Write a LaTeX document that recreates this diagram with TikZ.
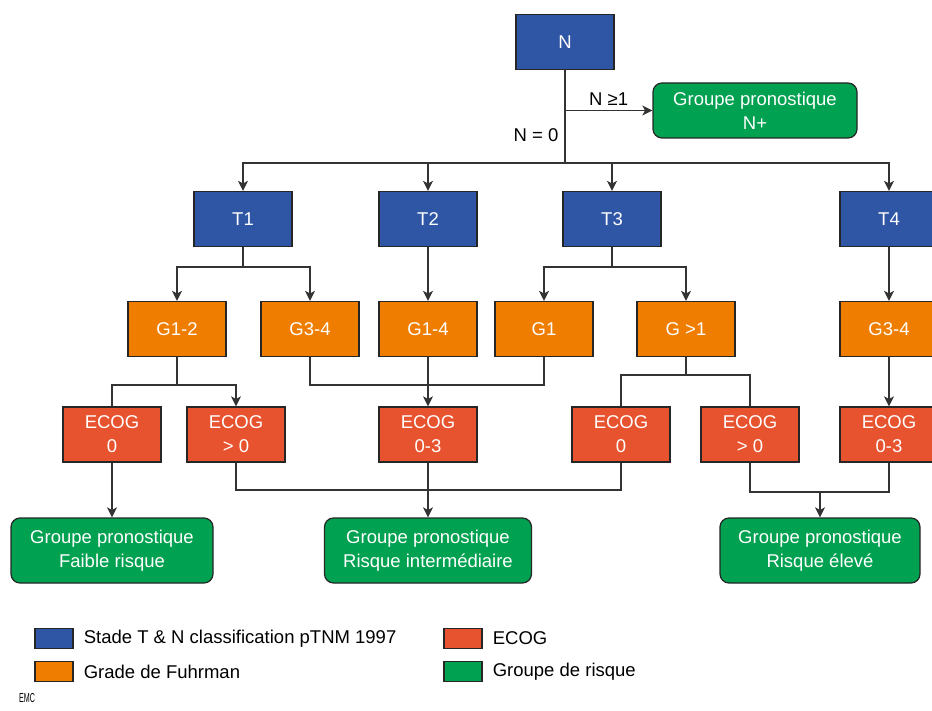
\documentclass[tikz,border=0pt]{standalone}
\usepackage{fontspec}
\setmainfont{Liberation Sans}
\usetikzlibrary{positioning, arrows.meta}
\definecolor{tblue}{HTML}{2F55A5}
\definecolor{gorange}{HTML}{EE7D00}
\definecolor{ered}{HTML}{E8532F}
\definecolor{rgreen}{HTML}{00A150}
\definecolor{wire}{HTML}{333333}
\tikzset{
box/.style={draw=black!85, line width=1.2pt, minimum width=98pt, minimum height=55pt, inner sep=2pt,
  text=white, align=center, font=\fontsize{18.5}{24}\selectfont}, % common look of all boxes
stade/.style={box, fill=tblue}, % T and N stage
grade/.style={box, fill=gorange}, % Fuhrman grade
ecog/.style={box, fill=ered}, % ECOG score
risque/.style={box, fill=rgreen, rounded corners=9pt, minimum width=202pt, minimum height=65pt}, % risk group
link/.style={draw=wire, line width=1.2pt}, % plain connector
arr/.style={link, -{Stealth[length=10pt, width=10pt, inset=2.5pt]}}, % connector with arrow
lbl/.style={text=black, font=\fontsize{18.5}{22}\selectfont, inner sep=1pt}, % edge labels
leg/.style={draw=black!85, line width=1.2pt, minimum width=38pt, minimum height=20pt, inner sep=0pt}, % legend square
legtxt/.style={inner sep=0pt, font=\fontsize{18.5}{22}\selectfont}, % legend text
}

\begin{document}
\begin{tikzpicture}[x=1pt, y=-1pt]
    \useasboundingbox (0,0) rectangle (932,711);
    \clip (0,0) rectangle (932,711);

    % stage
    \node[stade] (N) at (565,42) {N};
    \node[risque, minimum width=204pt, minimum height=55pt] (Npos) at (755,110.5) {Groupe pronostique\\N+};
    \node[lbl] (n0) at (536,135) {N = 0};

    \node[stade] (T1) at (243,219) {T1};
    \node[stade] (T2) at (428,219) {T2};
    \node[stade] (T3) at (612,219) {T3};
    \node[stade] (T4) at (889,219) {T4};

    % grade
    \node[grade] (G12) at (177,329) {G1-2};
    \node[grade] (G34) at (310,329) {G3-4};
    \node[grade] (G14) at (428,329) {G1-4};
    \node[grade] (G1) at (544,329) {G1};
    \node[grade] (Gsup) at (686,329) {G >1};
    \node[grade] (G34b) at (889,329) {G3-4};

    % ECOG
    \node[ecog] (E0a) at (112,434.5) {ECOG\\0};
    \node[ecog] (Esupa) at (236,434.5) {ECOG\\> 0};
    \node[ecog] (E03a) at (428,434.5) {ECOG\\0-3};
    \node[ecog] (E0b) at (621,434.5) {ECOG\\0};
    \node[ecog] (Esupb) at (750,434.5) {ECOG\\> 0};
    \node[ecog] (E03b) at (889,434.5) {ECOG\\0-3};

    % risk groups
    \node[risque] (Rfaible) at (112,550.5) {Groupe pronostique\\Faible risque};
    \node[risque, minimum width=207pt] (Rinter) at (428,550.5) {Groupe pronostique\\Risque intermédiaire};
    \node[risque, minimum width=200pt] (Releve) at (820,550.5) {Groupe pronostique\\Risque élevé};

    % bus points
    \coordinate (busN) at (565,163);
    \coordinate (busT1) at (243,267);
    \coordinate (busT3) at (612,267);
    \coordinate (busG12) at (177,385);
    \coordinate (busG) at (428,385);
    \coordinate (busGs) at (686,375);
    \coordinate (busEa) at (428,490);
    \coordinate (busEb) at (820,492);

    \draw[link] (N) -- (busN);
    \draw[arr] (N |- Npos) -- (Npos) node[lbl, midway, above=3pt] (ngt) {N ≥1};
    \foreach \t in {T1,T2,T3,T4}
        \draw[arr] (busN) -| (\t);

    \draw[link] (T1) -- (busT1);
    \draw[arr] (busT1) -| (G12);
    \draw[arr] (busT1) -| (G34);
    \draw[arr] (T2) -- (G14);
    \draw[link] (T3) -- (busT3);
    \draw[arr] (busT3) -| (G1);
    \draw[arr] (busT3) -| (Gsup);
    \draw[arr] (T4) -- (G34b);

    \draw[link] (G12) -- (busG12);
    \draw[link] (busG12) -| (E0a);
    \draw[arr] (busG12) -| (Esupa);
    \draw[link] (G34) |- (busG) -| (G1);
    \draw[arr] (G14) -- (E03a);
    \draw[link] (Gsup) -- (busGs);
    \draw[link] (busGs) -| (E0b);
    \draw[link] (busGs) -| (Esupb);
    \draw[arr] (G34b) -- (E03b);

    \draw[arr] (E0a) -- (Rfaible);
    \draw[link] (Esupa) |- (busEa) -| (E0b);
    \draw[arr] (E03a) -- (Rinter);
    \draw[link] (Esupb) |- (busEb) -| (E03b);
    \draw[arr] (busEb) -- (Releve);

    % legend
    \node[leg, fill=tblue] (legT) at (54,638.5) {};
    \node[legtxt, right=10pt of legT] (legTt) {Stade T \& N classification pTNM 1997};
    \node[leg, fill=gorange] (legG) at (54,671.5) {};
    \node[legtxt, right=10pt of legG] (legGt) {Grade de Fuhrman};
    \node[leg, fill=ered] (legE) at (463,638.5) {};
    \node[legtxt, right=10pt of legE] (legEt) {ECOG};
    \node[leg, fill=rgreen] (legR) at (463,671.5) {};
    \node[legtxt, right=10pt of legR] (legRt) {Groupe de risque};
    \node[inner sep=0pt, font=\fontsize{13}{13}\selectfont, xscale=0.55] (emc) at (27,698) {EMC};
\end{tikzpicture}
\end{document}
